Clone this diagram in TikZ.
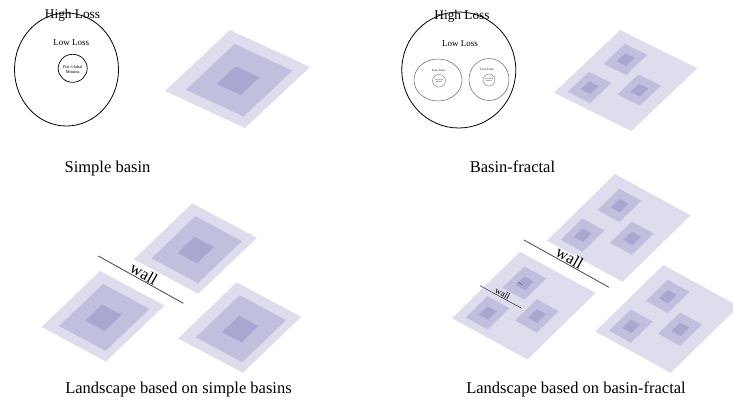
\documentclass[tikz,border=0pt]{standalone}
\usepackage{fontspec}
\setmainfont{Liberation Serif}
\definecolor{bOuter}{RGB}{221,221,237}
\definecolor{bMid}{RGB}{192,192,222}
\definecolor{bIn}{RGB}{168,167,208}
\newcommand\pgram[5]{\fill[#5] (#1,#3) -- (#2,#3) -- (#2,#4) -- (#1,#4) -- cycle;}
\newcommand\simplebasin{%
  \pgram{0}{1}{0}{1}{bOuter}%
  \pgram{0.165}{0.885}{0.13}{0.88}{bMid}%
  \pgram{0.37}{0.67}{0.37}{0.66}{bIn}}
\newcommand\subbasin[2]{%
  \pgram{#1}{#1+0.29}{#2}{#2+0.32}{bMid}%
  \pgram{#1+0.087}{#1+0.21}{#2+0.096}{#2+0.225}{bIn}}
\newcommand\fractalbasin{%
  \pgram{0}{1}{0}{1}{bOuter}%
  \subbasin{0.165}{0.12}\subbasin{0.11}{0.6}\subbasin{0.555}{0.37}}
\tikzset{
  caption/.style={inner sep=0pt, anchor=base, font=\fontsize{16.5}{18}\selectfont},
  bigcirc/.style={draw=black, line width=0.8pt},
  subcirc/.style={draw=black!60, line width=0.5pt},
  wallline/.style={draw=black!80, line width=0.7pt},
  walltext/.style={sloped, above, inner sep=0.6pt, font=\fontsize{16.5}{18}\selectfont},
  smallwalltext/.style={sloped, above, inner sep=0.4pt, font=\fontsize{9}{10}\selectfont},
}
\begin{document}
\begin{tikzpicture}[x=1pt,y=-1pt]
\clip (0,0) rectangle (733,402);
\fill[white] (0,0) rectangle (733,402);

% ---------- top left: simple basin ----------
\draw[bigcirc] (66.5,69.5) ellipse [x radius=52, y radius=56.5];
\node[inner sep=0pt, font=\fontsize{13.3}{14}\selectfont] (hl1) at (72.5,15) {High Loss};
\node[inner sep=0pt, font=\fontsize{9}{10}\selectfont] (ll1) at (71.3,43) {Low Loss};
\draw[draw=black, line width=0.7pt] (72.7,68.3) ellipse [x radius=14.5, y radius=14];
\node[inner sep=0pt, align=center, font=\fontsize{4.3}{5.6}\selectfont] (fg1) at (72.7,69.5) {Flat Global\\Minima};

\begin{scope}[shift={(230,30)},x={(80pt,-37pt)},y={(-65pt,-61pt)}]
  \simplebasin
\end{scope}
\node[caption] (cap1) at (107.5,172) {Simple basin};

% ---------- top right: basin-fractal ----------
\draw[bigcirc] (458.8,70) ellipse [x radius=57, y radius=58];
\node[inner sep=0pt, font=\fontsize{13.3}{14}\selectfont] (hl2) at (462,16) {High Loss};
\node[inner sep=0pt, font=\fontsize{9}{10}\selectfont] (ll2) at (460,43.3) {Low Loss};
\draw[subcirc] (438,80) ellipse [x radius=24, y radius=21];
\node[inner sep=0pt, font=\fontsize{3.3}{4}\selectfont] (ll3) at (438.3,70.5) {Low Loss};
\draw[subcirc, line width=0.35pt] (439,80.7) ellipse [x radius=6.5, y radius=6.3];
\node[inner sep=0pt, align=center, font=\fontsize{1.8}{2.3}\selectfont] (fg3) at (439,80.9) {Flat Global\\Minima};
\draw[subcirc] (489,79.5) ellipse [x radius=20, y radius=21];
\node[inner sep=0pt, font=\fontsize{3.3}{4}\selectfont] (ll4) at (487,69.3) {Low Loss};
\draw[subcirc, line width=0.35pt] (489,80) ellipse [x radius=6, y radius=6];
\node[inner sep=0pt, align=center, font=\fontsize{1.8}{2.3}\selectfont] (fg4) at (489,80.2) {Flat Global\\Minima};

\begin{scope}[shift={(620,30)},x={(77.3pt,-38.3pt)},y={(-66pt,-62.7pt)}]
  \fractalbasin
\end{scope}
\node[caption] (cap2) at (512.5,172) {Basin-fractal};

% ---------- bottom left: landscape of simple basins ----------
\begin{scope}[shift={(192.3,203.3)},x={(64.5pt,-34.5pt)},y={(-58.5pt,-56pt)}]
  \simplebasin
\end{scope}
\begin{scope}[shift={(100,271)},x={(64.5pt,-34.5pt)},y={(-58.5pt,-56pt)}]
  \simplebasin
\end{scope}
\begin{scope}[shift={(236.7,282.3)},x={(64.5pt,-34.5pt)},y={(-58.5pt,-56pt)}]
  \simplebasin
\end{scope}
\coordinate (w1a) at (98.3,256);
\coordinate (w1b) at (183.3,303.3);
\draw[wallline] (w1a) -- node[walltext] (wt1) {wall} (w1b);
\node[caption] (cap3) at (178.5,393) {Landscape based on simple basins};

% ---------- bottom right: landscape of basin-fractals ----------
\begin{scope}[shift={(615,174)},x={(75.5pt,-41.3pt)},y={(-68pt,-66.5pt)}]
  \fractalbasin
\end{scope}
\begin{scope}[shift={(520,251.7)},x={(75.5pt,-41.3pt)},y={(-68pt,-66.5pt)}]
  \fractalbasin
\end{scope}
\begin{scope}[shift={(663.3,265)},x={(75.5pt,-41.3pt)},y={(-68pt,-66.5pt)}]
  \fractalbasin
\end{scope}
\coordinate (w2a) at (524,240);
\coordinate (w2b) at (609,287.3);
\draw[wallline] (w2a) -- node[walltext] (wt2) {wall} (w2b);
\coordinate (w3a) at (480,285.7);
\coordinate (w3b) at (521.7,308.3);
\draw[wallline, line width=0.5pt] (w3a) -- node[smallwalltext] (wt3) {wall} (w3b);
\coordinate (w4a) at (517.8,282.2);
\coordinate (w4b) at (522.2,284.6);
\draw[wallline, line width=0.3pt] (w4a) -- (w4b);
\node[caption] (cap4) at (576,393) {Landscape based on basin-fractal};
\end{tikzpicture}
\end{document}
